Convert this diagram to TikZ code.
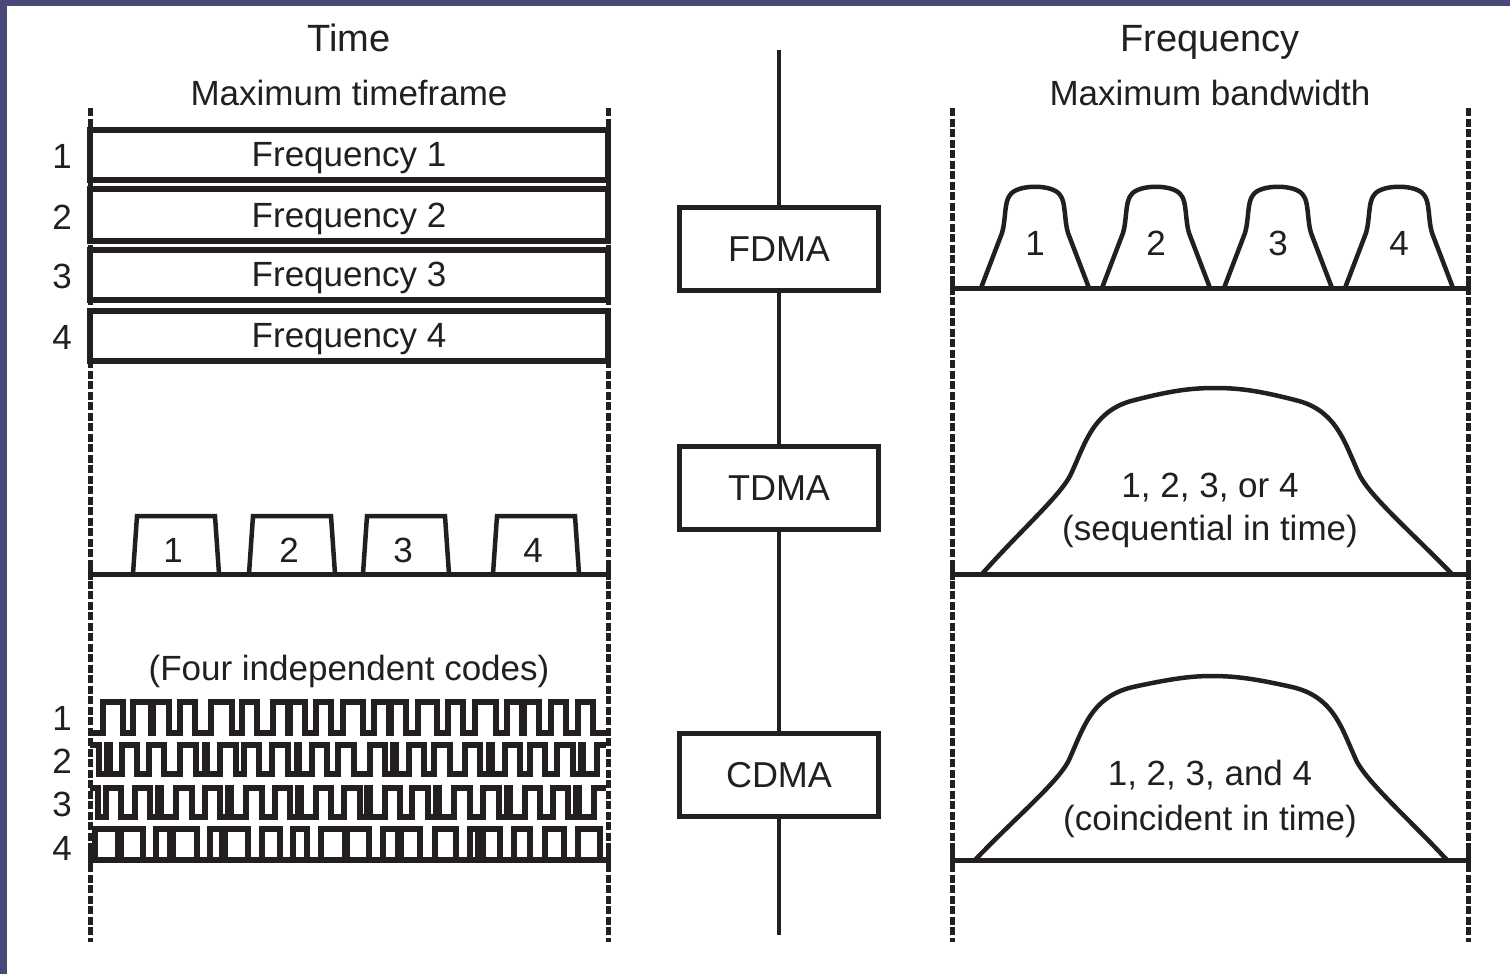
\documentclass[tikz,border=0pt]{standalone}
\usepackage{fontspec}
\setmainfont{Liberation Sans}
\definecolor{ink}{HTML}{231F20}
\definecolor{slide}{RGB}{74,72,120}

\begin{document}
\begin{tikzpicture}[x=1pt,y=-1pt,
  inkline/.style={draw=ink, line width=5pt},
  wave/.style={draw=ink, line width=4.5pt, line join=miter},
  chips/.style={wave, line width=5.5pt},
  guide/.style={draw=ink, line width=5pt, dash pattern=on 8pt off 2.5pt},
  endtick/.style={draw=ink, line width=5pt},
  lbl/.style={anchor=base, text=ink, inner sep=0pt, font=\fontsize{35}{40}\selectfont},
  head/.style={lbl, font=\fontsize{38}{44}\selectfont},
  access/.style={draw=ink, line width=5pt, fill=white, minimum width=199pt,
    minimum height=83pt, inner sep=0pt, text=ink, font=\fontsize{36}{40}\selectfont}]
% slide frame
\fill[slide] (0,0) rectangle (1510,974);
\fill[white] (7,6) rectangle (1510,974);
\useasboundingbox (0,0) rectangle (1510,974);

% headings
\node[head] (time) at (349,52) {Time};
\node[lbl] (maxtime) at (349,105) {Maximum timeframe};
\node[head] (freq) at (1210,52) {Frequency};
\node[lbl] (maxbw) at (1210,105) {Maximum bandwidth};

% dotted limits
\foreach \x in {90,608,952,1468}
  \draw[guide] (\x,108) -- (\x,942);

% centre axis
\coordinate (axtop) at (779,50);
\coordinate (axbot) at (779,935);
\node[access] (fdma) at (779,249) {FDMA};
\node[access] (tdma) at (779,488) {TDMA};
\node[access] (cdma) at (779,775) {CDMA};
\draw[inkline, line width=4pt] (axtop) -- (fdma);
\draw[inkline, line width=4pt] (fdma) -- (tdma);
\draw[inkline, line width=4pt] (tdma) -- (cdma);
\draw[inkline, line width=4pt] (cdma) -- (axbot);

% FDMA - time
\foreach \t/\b/\n in {130/180/1, 189/241/2, 250/300/3, 311/361/4} {
  \draw[inkline, line width=5.5pt] (90,\t) rectangle (608,\b);
  \node[lbl] (band\n) at (349,\b-14) {Frequency \n};
  \node[lbl] (bandno\n) at (62,\b-12) {\n};
}

% FDMA - frequency
\draw[inkline] (952,288) -- (1468,288);
\foreach \c/\n in {1035/1,1156/2,1278/3,1399/4} {
  \draw[wave] (\c-54,288) -- (\c-33,233) .. controls (\c-29,220) and (\c-31,202) .. (\c-25,195)
    .. controls (\c-18,184) and (\c+18,184) .. (\c+25,195)
    .. controls (\c+31,202) and (\c+29,220) .. (\c+33,233) -- (\c+54,288);
  \node[lbl] (bell\n) at (\c,255) {\n};
}

% TDMA - time
\draw[inkline] (90,574) -- (608,574);
\foreach \x/\n in {133/1,249/2,363/3,493/4} {
  \draw[wave] (\x,574) -- ++(4,-58) -- ++(78,0) -- ++(4,58);
  \node[lbl] (slot\n) at (\x+40,562) {\n};
}

% TDMA - frequency
\draw[inkline] (952,574) -- (1468,574);
\draw[wave] (982,574) .. controls (1020,531) and (1058,498) .. (1070,476)
  .. controls (1085,445) and (1092,410) .. (1135,400)
  .. controls (1170,391) and (1190,388) .. (1215,388)
  .. controls (1240,388) and (1260,391) .. (1295,400)
  .. controls (1338,410) and (1345,445) .. (1360,476)
  .. controls (1372,498) and (1410,531) .. (1452,574);
\node[lbl] (seqa) at (1210,497) {1, 2, 3, or 4};
\node[lbl] (seqb) at (1210,540) {(sequential in time)};

% CDMA - time
\node[lbl] (codes) at (349,680) {(Four independent codes)};
\draw[chips] (90,733) foreach \a/\b in {103/123, 133/151, 153/169, 180/195, 211/232, 242/257,
  273/288, 290/305, 316/331, 343/363, 374/389, 391/406, 418/437, 448/463, 475/496, 507/522,
  524/539, 551/566, 578/593} { -| (\a,702) -| (\b,733) } -- (606,733);
\draw[chips] (90,745) foreach \a/\b in {99/107, 110/122, 137/149, 164/180, 196/205, 207/220,
  236/244, 259/272, 288/297, 299/312, 327/338, 354/370, 385/393, 396/409, 424/434, 450/465,
  480/489, 492/505, 520/530, 545/557, 573/581, 583/597} { -| (\a,774) -| (\b,745) } -- (606,745);
\draw[chips] (90,788) foreach \a/\b in {98/106, 121/135, 150/158, 161/176, 192/205, 220/228,
  231/246, 262/275, 290/298, 301/316, 331/344, 360/367, 370/385, 400/412, 428/436, 439/454,
  470/483, 499/507, 510/525, 540/553, 568/576, 579/594} { -| (\a,817) -| (\b,788) } -- (606,788);
\draw[inkline, line width=5.5pt] (90,860) -- (608,860);
\foreach \a/\b in {95/118, 121/143, 156/170, 173/197, 210/222, 225/248, 262/280, 293/307,
  321/345, 347/369, 383/398, 401/420, 435/456, 470/478, 483/500, 514/530, 545/564, 578/600}
  \draw[chips] (\a,860) |- (\b,829) -- (\b,860);
\foreach \y/\n in {730/1,773/2,816/3,860/4}
  \node[lbl] (codeno\n) at (62,\y) {\n};

% CDMA - frequency
\draw[inkline] (952,860) -- (1468,860);
\draw[wave] (975,860) .. controls (1015,818) and (1055,785) .. (1068,762)
  .. controls (1083,730) and (1090,697) .. (1133,687)
  .. controls (1170,679) and (1190,676) .. (1212,676)
  .. controls (1236,676) and (1256,679) .. (1292,687)
  .. controls (1335,697) and (1342,730) .. (1357,762)
  .. controls (1370,785) and (1408,818) .. (1447,860);
\node[lbl] (coia) at (1210,785) {1, 2, 3, and 4};
\node[lbl] (coib) at (1210,830) {(coincident in time)};

% solid ends of the base lines
\foreach \x/\y in {90/574, 608/574, 90/860, 608/860, 952/288, 1468/288, 952/574, 1468/574, 952/860, 1468/860}
  \draw[endtick] (\x,\y-9) -- (\x,\y+6);
\end{tikzpicture}
\end{document}
